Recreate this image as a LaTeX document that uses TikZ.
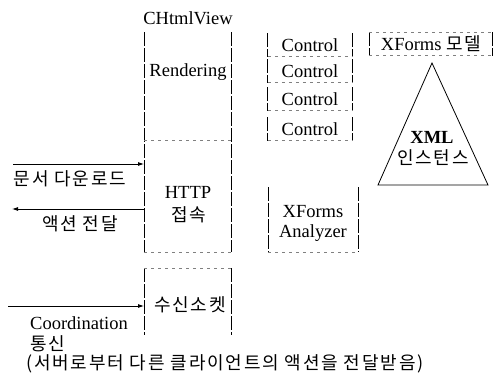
\documentclass[tikz,border=0pt]{standalone}
\usepackage{fontspec}
\setmainfont{Liberation Serif}
\newfontfamily\kr[LetterSpace=10]{Noto Sans CJK KR}
\usetikzlibrary{arrows.meta}
\begin{document}
\begin{tikzpicture}[x=1pt,y=-1pt,
  lat/.style={font=\fontsize{18.5}{20}\selectfont, inner sep=0pt},
  kor/.style={font=\kr\fontsize{18}{20}\selectfont, inner sep=0pt},
  frame/.style={inner sep=0pt, anchor=north west},
  side/.style={line width=0.7pt, dash pattern=on 14pt off 2pt},
  edge/.style={line width=0.5pt, gray, dash pattern=on 3pt off 4pt},
  arr/.style={line width=0.8pt, -{Latex[length=6pt,width=4pt]}}]
\useasboundingbox (0,0) rectangle (496,376);

% main view box
\node[frame, minimum width=87pt, minimum height=220pt] (view) at (144,32) {};
\draw[side] (view.north west) -- (view.south west);
\draw[side] (view.north east) -- (view.south east);
\draw[edge] (view.south west) -- (view.south east);
\coordinate (div) at (144,140);
\draw[edge] (div) -- (div -| view.east);
\node[lat] (cv) at (188,18) {CHtmlView};
\node[lat] (rend) at (188,72) {Rendering};
\node[lat] (http) at (188,192) {HTTP};
\node[kor] (conn) at (189,215) {접속};

% socket box
\node[frame, minimum width=87pt, minimum height=67pt] (sockbox) at (144,268) {};
\draw[side] (sockbox.north west) -- (sockbox.south west);
\draw[side] (sockbox.north east) -- (sockbox.south east);
\draw[edge] (sockbox.north west) -- (sockbox.north east);
\node[kor] (sock) at (190,305) {수신소켓};

% arrows
\coordinate (a1) at (13,164);
\draw[arr] (a1) -- (a1 -| view.west);
\node[kor] (l1) at (70,179) {문서 다운로드};
\coordinate (a2) at (12,209);
\draw[arr] (a2 -| view.west) -- (a2);
\node[kor] (l2) at (80,224) {액션 전달};
\coordinate (a3) at (8,306);
\draw[arr] (a3) -- (a3 -| sockbox.west);
\node[lat, anchor=west] (coord) at (30,323) {Coordination};
\node[kor, anchor=west] (tong) at (30,344) {통신};
\node[kor, anchor=west] (note) at (26,364) {(서버로부터 다른 클라이언트의 액션을 전달받음)};

% controls
\foreach \i/\y in {1/45,2/71,3/99,4/129}{
  \node[draw=none, minimum width=84pt, minimum height=23pt, inner sep=0pt] (c\i) at (310,\y) {};
  \draw[side] (c\i.north west) -- (c\i.south west);
  \draw[side] (c\i.north east) -- (c\i.south east);
  \draw[edge] (c\i.south west) -- (c\i.south east);
  \node[lat] at (c\i) {Control};
}

% XForms model
\node[draw=none, minimum width=123pt, minimum height=23pt, inner sep=0pt] (xm) at (431,44) {};
\draw[side] (xm.north west) -- (xm.south west);
\draw[side] (xm.north east) -- (xm.south east);
\draw[edge] (xm.north west) -- (xm.north east);
\draw[edge] (xm.south west) -- (xm.south east);
\node[lat] (xmt) at (xm) {XForms {\kr\fontsize{18}{20}\selectfont 모델}};

% triangle
\coordinate (t1) at (432,63);
\coordinate (t2) at (378,185);
\coordinate (t3) at (488,185);
\draw[line width=0.8pt] (t1) -- (t2) -- (t3) -- cycle;
\node[lat, font=\bfseries\fontsize{18.5}{20}\selectfont] (xml) at (432,137) {XML};
\node[kor] (inst) at (433,158) {인스턴스};

% analyzer
\node[frame, minimum width=90pt, minimum height=65pt] (an) at (268,187) {};
\draw[side] (an.north west) -- (an.south west);
\draw[side] (an.north east) -- (an.south east);
\draw[edge] (an.south west) -- (an.south east);
\node[lat] (ant1) at (313,212) {XForms};
\node[lat] (ant2) at (313,233) {Analyzer};
\end{tikzpicture}
\end{document}
